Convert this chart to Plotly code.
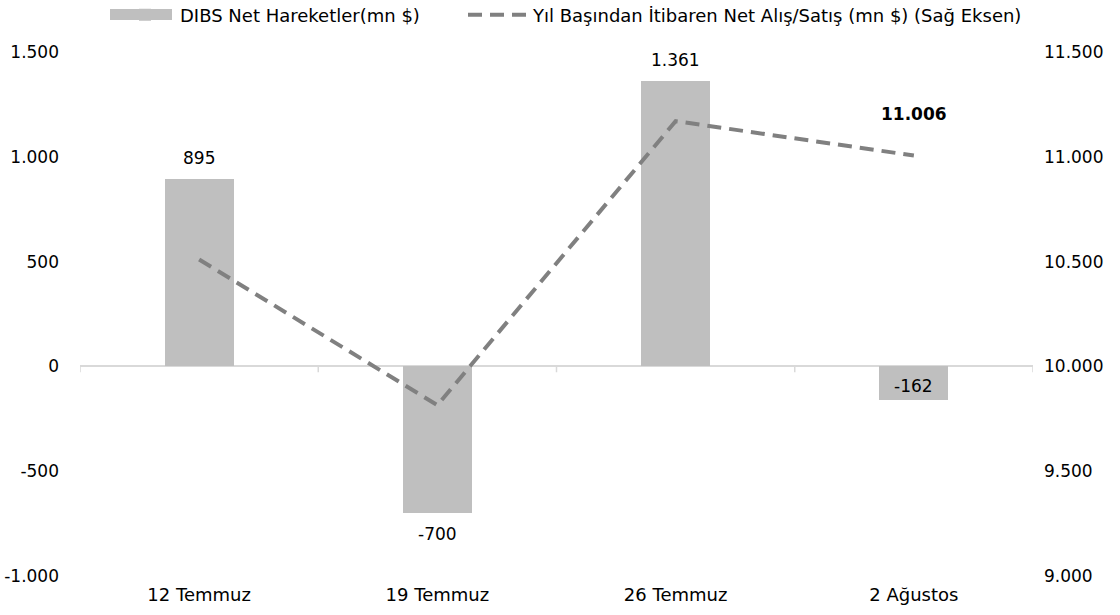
import plotly.graph_objects as go

categories = ["12 Temmuz", "19 Temmuz", "26 Temmuz", "2 Ağustos"]
bar_values = [895, -700, 1361, -162]
bar_labels = ["895", "-700", "1.361", "-162"]
line_values = [10510, 9815, 11170, 11006]
left_ticks = [-1000, -500, 0, 500, 1000, 1500]
left_ticktext = ["-1.000", "-500", "0", "500", "1.000", "1.500"]
right_ticks = [9000, 9500, 10000, 10500, 11000, 11500]
right_ticktext = ["9.000", "9.500", "10.000", "10.500", "11.000", "11.500"]

FONT = "DejaVu Sans"
NUM = 17
TXT = 18
W, H = 1120, 615
L, R, T, B = 80, 87, 52, 39
PW, PH = W - L - R, H - T - B


def px_x(px):
    return (px - L) / PW


def px_y(py):
    return 1 + (T - py) / PH


fig = go.Figure()
fig.add_trace(go.Bar(
    x=categories, y=bar_values, name="DIBS Net Hareketler(mn $)",
    marker=dict(color="#bfbfbf", line=dict(width=0)), width=0.29, yaxis="y",
    legend="legend",
))
fig.add_trace(go.Scatter(
    x=categories, y=line_values, name="Yıl Başından İtibaren Net Alış/Satış (mn $) (Sağ Eksen)",
    mode="lines", line=dict(color="#808080", width=4, dash="14px,8px"), yaxis="y2",
    legend="legend2",
))

annotations = []
for c, v, t in zip(categories, bar_values, bar_labels):
    if v > 0:
        annotations.append(dict(x=c, y=v, xref="x", yref="y", text=t, showarrow=False,
                                yshift=21, font=dict(size=NUM, color="#000", family=FONT)))
    elif v < -300:
        annotations.append(dict(x=c, y=v, xref="x", yref="y", text=t, showarrow=False,
                                yshift=-21, font=dict(size=NUM, color="#000", family=FONT)))
    else:
        annotations.append(dict(x=c, y=v / 2, xref="x", yref="y", text=t, showarrow=False,
                                yshift=-3, font=dict(size=NUM, color="#000", family=FONT)))
annotations.append(dict(x=categories[-1], y=line_values[-1], xref="x", yref="y2",
                        text="<b>11.006</b>", showarrow=False, yshift=42,
                        font=dict(size=NUM, color="#000", family=FONT)))

shapes = []
for b in [-0.5, 0.5, 1.5, 2.5, 3.5]:
    shapes.append(dict(type="line", xref="x", yref="y", x0=b, x1=b, y0=0, y1=-28,
                       line=dict(color="#d9d9d9", width=1.5), layer="below"))
# wide legend swatch for the bar series
shapes.append(dict(type="rect", xref="paper", yref="paper",
                   x0=px_x(110), x1=px_x(172), y0=px_y(20), y1=px_y(9),
                   fillcolor="#bfbfbf", line=dict(width=0), layer="above"))

legend_common = dict(orientation="h", xanchor="left", yanchor="middle", y=px_y(15),
                     font=dict(size=TXT, family=FONT), itemwidth=60,
                     bgcolor="rgba(0,0,0,0)")

fig.update_layout(
    width=W, height=H,
    margin=dict(l=L, r=R, t=T, b=B, autoexpand=False),
    plot_bgcolor="white", paper_bgcolor="white",
    font=dict(family=FONT, size=NUM, color="#000"),
    bargap=0.0,
    showlegend=True,
    legend=dict(x=px_x(110), **legend_common),
    legend2=dict(x=px_x(463), **legend_common),
    xaxis=dict(showgrid=False, showline=False, ticks="", range=[-0.5, 3.5],
               tickfont=dict(size=TXT), ticklabelstandoff=6),
    yaxis=dict(range=[-1000, 1500], tickvals=left_ticks, ticktext=left_ticktext,
               showgrid=False, zeroline=True, zerolinecolor="#d9d9d9", zerolinewidth=1.5,
               showline=False, ticks="", ticklabelstandoff=20),
    yaxis2=dict(range=[9000, 11500], tickvals=right_ticks, ticktext=right_ticktext,
                overlaying="y", side="right", showgrid=False, zeroline=False,
                showline=False, ticks="", ticklabelstandoff=10),
    annotations=annotations,
    shapes=shapes,
)
fig.write_html("out.html", config=dict(displayModeBar=False),
               post_script="document.body.style.margin='0';document.body.style.padding='0';")
